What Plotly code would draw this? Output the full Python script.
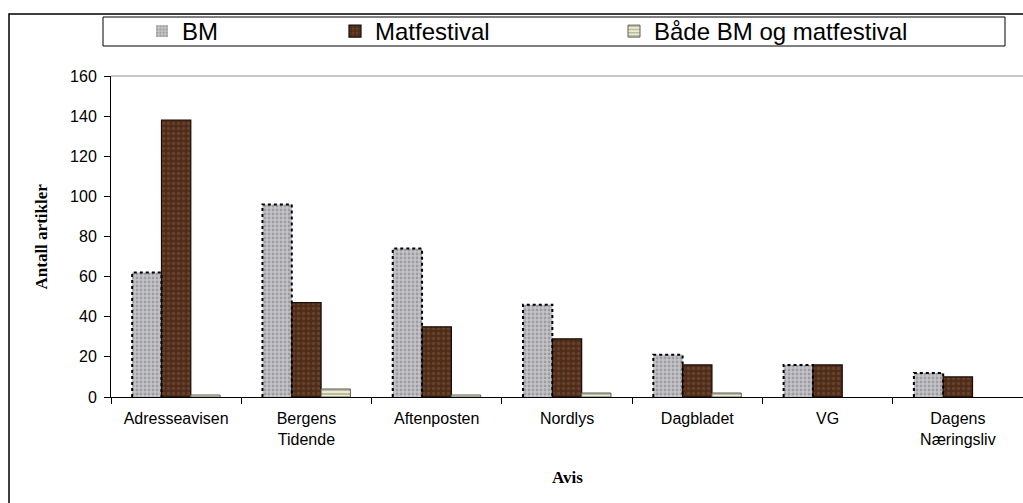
import plotly.graph_objects as go

categories = ["Adresseavisen", "Bergens<br>Tidende", "Aftenposten", "Nordlys",
              "Dagbladet", "VG", "Dagens<br>Næringsliv"]
bm = [62, 96, 74, 46, 21, 16, 12]
matfestival = [138, 47, 35, 29, 16, 16, 10]
begge = [1, 4, 1, 2, 2, 0, 0]
series_names = ["BM", "Matfestival", "Både BM og matfestival"]
y_ticks = [0, 20, 40, 60, 80, 100, 120, 140, 160]

x_idx = list(range(len(categories)))
BARGAP = 0.325
W = (1 - BARGAP) / 3

fig = go.Figure()

fig.add_trace(go.Bar(
    x=x_idx, y=bm, name=series_names[0], legend="legend",
    marker=dict(color="#c4c4c8", line=dict(width=0),
                pattern=dict(shape=".", fgcolor="#74747c", size=4, solidity=0.4,
                             fillmode="overlay")),
))
fig.add_trace(go.Bar(
    x=x_idx, y=matfestival, name=series_names[1], legend="legend2",
    marker=dict(color="#4e2c1a", line=dict(color="#1a0a04", width=1.2),
                pattern=dict(shape=".", fgcolor="#7e5638", size=5, solidity=0.4,
                             fillmode="overlay")),
))
fig.add_trace(go.Bar(
    x=x_idx, y=begge, name=series_names[2], legend="legend3",
    marker=dict(color="#ececcc",
                line=dict(color="#606058", width=[1 if v > 0 else 0 for v in begge]),
                pattern=dict(shape="-", fgcolor="#8c8c80", size=4, solidity=0.5,
                             fillmode="overlay")),
))

# dotted outline of the BM bars, derived from the data
ox, oy = [], []
for i, v in zip(x_idx, bm):
    left = i - 1.5 * W
    right = i - 0.5 * W
    ox += [left, left, right, right, None]
    oy += [0, v, v, 0, None]
fig.add_trace(go.Scatter(x=ox, y=oy, mode="lines", showlegend=False, hoverinfo="skip",
                         line=dict(color="black", width=2, dash="dot")))

PL, PT, PB = 111, 76, 397
PW = 1023 - PL
PH = PB - PT

def px_x(p):
    return (p - PL) / PW

def px_y(p):
    return (PB - p) / PH

fig.update_layout(
    width=1023, height=503,
    margin=dict(l=PL, r=0, t=PT, b=503 - PB),
    paper_bgcolor="#ffffff", plot_bgcolor="#ffffff",
    barmode="group", bargap=BARGAP, bargroupgap=0,
    font=dict(family="Liberation Sans, Arial", color="black"),
    xaxis=dict(range=[-0.5, len(categories) - 0.5], tickvals=x_idx, ticktext=categories,
               ticks="", showgrid=False, zeroline=False, showline=True,
               linecolor="black", linewidth=1, tickfont=dict(size=16),
               ticklabelstandoff=7,
               minor=dict(tick0=-0.5, dtick=1, ticks="outside", ticklen=6,
                          tickcolor="black", showgrid=False)),
    yaxis=dict(range=[0, 160], tickvals=y_ticks, ticks="outside", ticklen=6,
               tickcolor="black", showgrid=False, zeroline=False, showline=True,
               linecolor="black", linewidth=1, tickfont=dict(size=16),
               ticklabelstandoff=4),
    showlegend=True,
)

legend_common = dict(orientation="h", xref="container", yref="container",
                     xanchor="left", yanchor="middle", y=1 - 31.5 / 503,
                     bgcolor="rgba(0,0,0,0)", borderwidth=0,
                     font=dict(size=24, family="Liberation Sans, Arial"))
fig.update_layout(
    legend=dict(x=(172 - 30) / 1023, **legend_common),
    legend2=dict(x=(367 - 32) / 1023, **legend_common),
    legend3=dict(x=(645 - 31) / 1023, **legend_common),
)

fig.add_annotation(text="<b>Antall artikler</b>", textangle=-90, showarrow=False,
                   xref="paper", yref="paper", x=px_x(41), y=0.5,
                   xanchor="center", yanchor="middle",
                   font=dict(family="Liberation Serif, Times New Roman", size=17))
fig.add_annotation(text="<b>Avis</b>", showarrow=False,
                   xref="paper", yref="paper", x=0.5, y=px_y(477),
                   xanchor="center", yanchor="middle",
                   font=dict(family="Liberation Serif, Times New Roman", size=17))

# plot area top border
fig.add_shape(type="line", xref="paper", yref="paper", x0=0, x1=1.01, y0=1, y1=1,
              line=dict(color="#909090", width=1))
# legend frame
fig.add_shape(type="rect", xref="paper", yref="paper",
              x0=px_x(103), x1=px_x(1005), y0=px_y(46), y1=px_y(17),
              line=dict(color="black", width=1), layer="below")
# outer chart frame: left and top edges (the rest lies outside the picture)
fig.add_shape(type="path", xref="paper", yref="paper",
              path=f"M {px_x(9)} {px_y(540)} L {px_x(9)} {px_y(14)} L {px_x(1080)} {px_y(14)}",
              line=dict(color="black", width=1.5))

fig.write_html("out.html", config={"displayModeBar": False})
